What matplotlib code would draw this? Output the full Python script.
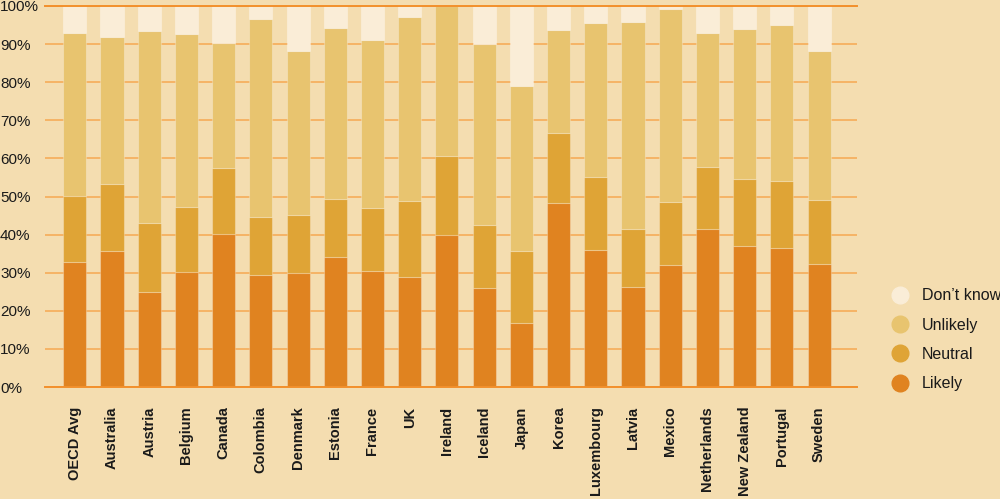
import matplotlib
matplotlib.use("Agg")
import matplotlib.pyplot as plt
from matplotlib.lines import Line2D
import numpy as np

countries = ["OECD Avg", "Australia", "Austria", "Belgium", "Canada", "Colombia",
             "Denmark", "Estonia", "France", "UK", "Ireland", "Iceland", "Japan",
             "Korea", "Luxembourg", "Latvia", "Mexico", "Netherlands", "New Zealand",
             "Portugal", "Sweden"]
# cumulative tops (percent)
likely_top = [32.9, 35.6, 25.0, 30.3, 40.2, 29.3, 30.0, 34.1, 30.5, 29.0, 39.8, 26.1,
              16.8, 48.4, 36.0, 26.2, 31.9, 41.5, 37.0, 36.6, 32.4]
neutral_top = [50.1, 53.3, 43.0, 47.3, 57.6, 44.7, 45.2, 49.4, 47.0, 48.7, 60.6, 42.5,
               35.8, 66.7, 55.2, 41.4, 48.6, 57.7, 54.6, 54.0, 49.0]
unlikely_top = [93.0, 91.9, 93.4, 92.7, 90.4, 96.6, 88.2, 94.1, 91.1, 97.0, 100.0, 90.1,
                79.1, 93.7, 95.5, 95.9, 99.2, 92.9, 94.0, 94.9, 88.2]

likely = np.array(likely_top)
neutral = np.array(neutral_top) - np.array(likely_top)
unlikely = np.array(unlikely_top) - np.array(neutral_top)
dontknow = 100 - np.array(unlikely_top)

series_names = ["Likely", "Neutral", "Unlikely", "Don\u2019t know"]
colors = ["#E08320", "#DFA436", "#E8C46F", "#FAEDD7"]
bg = "#F4DDB0"

fig = plt.figure(figsize=(10, 4.99), dpi=100, facecolor=bg)
ax = fig.add_axes([0.045, 0.2244, 0.812, 0.7636], facecolor=bg)

x = np.arange(len(countries))
bottom = np.zeros(len(countries))
for vals, col, name in zip([likely, neutral, unlikely, dontknow], colors, series_names):
    ax.bar(x, vals, bottom=bottom, width=0.62, color=col, label=name,
           edgecolor=(1, 1, 1, 0.25), linewidth=0.8, zorder=2)
    bottom += vals

ax.set_xlim(-0.8, 21.02)
ax.set_ylim(0, 100)
ax.set_yticks(np.arange(0, 101, 10))
ax.set_yticklabels([f"{v}%" for v in range(0, 101, 10)])
ax.yaxis.grid(True, color="#F6B060", linewidth=1.3, zorder=0)
ax.set_axisbelow(True)
for s in ["left", "right"]:
    ax.spines[s].set_visible(False)
for s in ["top", "bottom"]:
    ax.spines[s].set_color("#F2902C")
    ax.spines[s].set_linewidth(1.4)
    ax.spines[s].set_zorder(3)

ax.tick_params(axis="y", length=0, pad=32.4, labelsize=11, labelcolor="#1a1a1a")
for lab in ax.get_yticklabels():
    lab.set_horizontalalignment("left")
    lab.set_fontfamily("Liberation Sans")

ax.set_xticks(x)
ax.set_xticklabels(countries, rotation=90, fontsize=10.5, family="Liberation Sans",
                   fontweight="bold", color="#1a1a1a", va="top", ha="center")
ax.tick_params(axis="x", length=0, pad=14)

handles = [Line2D([0], [0], marker="o", linestyle="", markersize=12,
                  markerfacecolor=c, markeredgecolor=c) for c in colors[::-1]]
leg = fig.legend(handles, series_names[::-1], loc="center left",
                 bbox_to_anchor=(0.878, 0.319), frameon=False,
                 prop={"family": "Liberation Sans", "size": 11.5},
                 handlelength=1.0, handletextpad=0.85, labelspacing=0.9)
for t in leg.get_texts():
    t.set_color("#1a1a1a")

fig.savefig("out.png", dpi=100, facecolor=bg)
